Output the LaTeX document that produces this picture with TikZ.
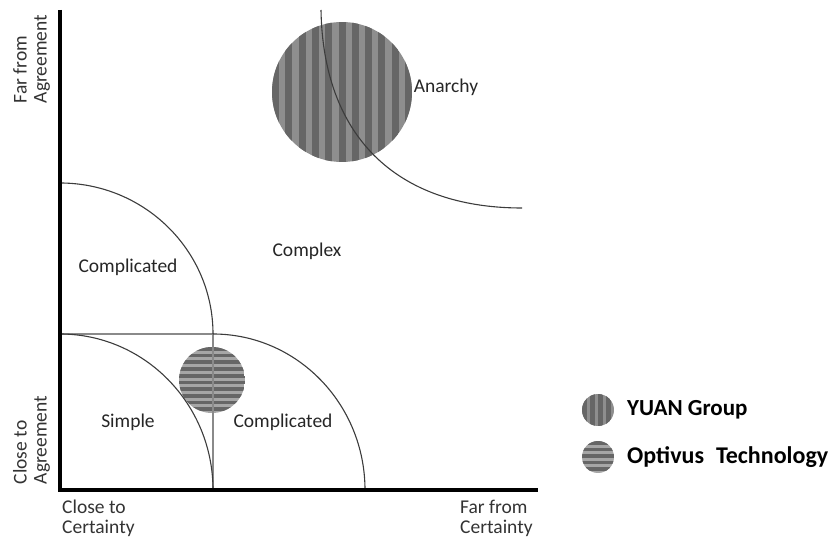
\documentclass[tikz,border=0pt]{standalone}
\usepackage{fontspec}
\setmainfont{Carlito}
\usetikzlibrary{calc}
\definecolor{stripedark}{HTML}{666666}
\definecolor{stripelight}{HTML}{8E8E8E}
\definecolor{stripepale}{HTML}{A6A6A6}
\definecolor{curvegray}{HTML}{3C3C3C}
\definecolor{splitgray}{HTML}{8A8A8A}
\tikzset{
  axis/.style={line width=3.6pt,black},
  border/.style={line width=1.1pt,curvegray},
  split/.style={line width=1.8pt,splitgray},
  region/.style={inner sep=0pt,text=black!85},
  axislabel/.style={inner sep=0pt,align=left,text=black!80},
  legendtext/.style={inner sep=0pt,anchor=west,font=\fontsize{23}{25}\selectfont\bfseries}
}

\begin{document}
\begin{tikzpicture}[x=1pt,y=-1pt,font=\fontsize{19.5}{20}\selectfont]
\useasboundingbox (0,0) rectangle (836,540);
        \coordinate (O) at (60,490);
        \coordinate (T) at (60,10);
        \coordinate (R) at (538,490);
        \coordinate (A) at (60,183);
        \coordinate (B) at (213,334);
        \coordinate (C) at (60,334);
        \coordinate (D) at (213,490);
        \coordinate (E) at (365,490);
        \coordinate (F) at (321,10);
        \coordinate (G) at (522,208);
        \coordinate (Y) at (342,92);
        \coordinate (P) at (212,380);
% YUAN Group
\begin{scope}
\clip (Y) circle (70);
\fill[stripelight] ($(Y)+(-70,-70)$) rectangle ($(Y)+(70,70)$);
\foreach \i in {0,...,10}
  \fill[stripedark] ($(Y)+(-70+\i*13.3,-70)$) rectangle ++(7,140);
\end{scope}
% Optivus Technology
\begin{scope}
\clip (P) circle (33);
\fill[stripepale] ($(P)+(-33,-33)$) rectangle ($(P)+(33,33)$);
\foreach \i in {0,...,9}
  \fill[stripedark] ($(P)+(-33,-33+\i*6.7)$) rectangle ++(66,3.7);
\end{scope}
% borders
\draw[split] (C)--(B)--(D);
\draw[border] (A) .. controls (144.5,183) and (213,250.6) .. (B);
\draw[border] (C) .. controls (144.5,334) and (213,403.9) .. (D);
\draw[border] (B) .. controls (296.9,334) and (365,403.9) .. (E);
\draw[border] (F) .. controls (323,135) and (395,208) .. (G);
\draw[axis] (T)--(O)--(R);
% regions
\node[region] (anarchy) at (446,87) {Anarchy};
\node[region] (complex) at (307,251) {Complex};
\node[region] (complicatedtop) at (128,267) {Complicated};
\node[region] (simple) at (128,422) {Simple};
\node[region] (complicatedbottom) at (283,422) {Complicated};
% axis labels
\node[axislabel,rotate=90] (faragree) at (31.5,59) {Far from\\Agreement};
\node[axislabel,rotate=90] (closeagree) at (31.5,440) {Close to\\Agreement};
\node[axislabel,anchor=north west] (closecert) at (62,500) {Close to\\Certainty};
\node[axislabel,anchor=north west] (farcert) at (460,500) {Far from\\Certainty};
% legend
\coordinate (LY) at (598,410);
\coordinate (LP) at (598,457);
\begin{scope}
\clip (LY) circle (16);
\fill[stripelight] ($(LY)+(-16,-16)$) rectangle ($(LY)+(16,16)$);
\foreach \i in {0,...,3}
  \fill[stripedark] ($(LY)+(-16+\i*8,-16)$) rectangle ++(4.5,32);
\end{scope}
\begin{scope}
\clip (LP) circle (16);
\fill[stripepale] ($(LP)+(-16,-16)$) rectangle ($(LP)+(16,16)$);
\foreach \i in {0,...,4}
  \fill[stripedark] ($(LP)+(-16,-16+\i*6.6)$) rectangle ++(32,3.6);
\end{scope}
\node[legendtext] (yuan) at (627,410) {YUAN Group};
\node[legendtext,font=\fontsize{24}{26}\selectfont\bfseries] (optivus) at (627,457) {Optivus\hspace{12pt}Technology};
\end{tikzpicture}
\end{document}
